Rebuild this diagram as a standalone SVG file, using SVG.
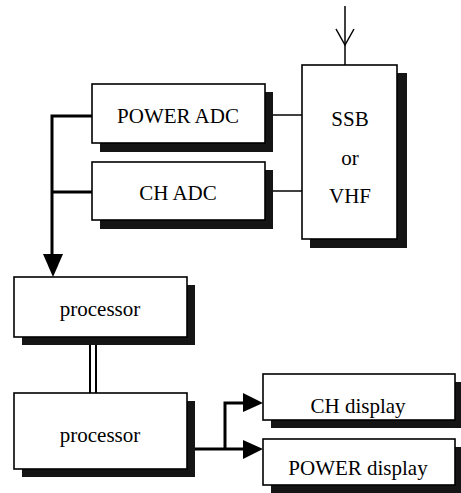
<svg xmlns="http://www.w3.org/2000/svg" width="461" height="493" viewBox="0 0 461 493">
<defs>
<style>
.box{fill:#fff;stroke:#000;stroke-width:1.6}
.sh{fill:#151515}
.t{font-family:"Liberation Serif","Times New Roman",serif;font-size:21px;fill:#000;text-anchor:middle}
.thin{fill:none;stroke:#000;stroke-width:1.5}
.bus{fill:none;stroke:#000;stroke-width:3}
</style>
<marker id="ah" viewBox="0 0 20 20" refX="20" refY="10" markerWidth="20" markerHeight="20" markerUnits="userSpaceOnUse" orient="auto">
<path d="M0,0 L20,10 L0,20 Z" fill="#000"/>
</marker>
</defs>
<rect width="461" height="493" fill="#fff"/>
<g id="connectors">
<line class="thin" x1="345" y1="6" x2="345" y2="65"/>
<polyline class="thin" points="336,29 345,45 354,29"/>
<line class="thin" x1="273" y1="115" x2="302" y2="115"/>
<line class="thin" x1="273" y1="191" x2="302" y2="191"/>
<polyline class="bus" points="92,116 52,116 52,268"/>
<line class="bus" x1="52" y1="192" x2="92" y2="192"/>
<path d="M43,254 L63,254 L53,277 Z" fill="#000"/>
<line x1="90" y1="345" x2="90" y2="393" stroke="#000" stroke-width="2"/>
<line x1="96" y1="345" x2="96" y2="393" stroke="#000" stroke-width="2"/>
<polyline class="bus" points="195,449 245,449"/>
<polyline class="bus" points="225,449 225,403 245,403"/>
<path d="M243,393 L263,403 L243,412 Z" fill="#000"/>
<path d="M243,440 L263,449 L243,459 Z" fill="#000"/>
</g>
<g id="ssb">
<rect class="sh" x="310" y="73" width="97" height="175"/>
<rect class="box" x="302" y="65" width="95" height="174"/>
<text class="t" x="350" y="126">SSB</text>
<text class="t" x="350" y="165">or</text>
<text class="t" x="350" y="203">VHF</text>
</g>
<g id="power-adc">
<rect class="sh" x="100" y="92" width="173" height="60"/>
<rect class="box" x="92" y="84" width="173" height="59"/>
<text class="t" x="178" y="123">POWER ADC</text>
</g>
<g id="ch-adc">
<rect class="sh" x="100" y="170" width="173" height="59"/>
<rect class="box" x="92" y="162" width="173" height="58"/>
<text class="t" x="178" y="200">CH ADC</text>
</g>
<g id="processor1">
<rect class="sh" x="22" y="285" width="173" height="60"/>
<rect class="box" x="14" y="277" width="173" height="60"/>
<text class="t" x="100" y="316">processor</text>
</g>
<g id="processor2">
<rect class="sh" x="22" y="401" width="173" height="76"/>
<rect class="box" x="14" y="393" width="173" height="76"/>
<text class="t" x="100" y="442">processor</text>
</g>
<g id="ch-display">
<rect class="sh" x="271" y="382" width="192" height="46"/>
<rect class="box" x="263" y="374" width="192" height="46"/>
<text class="t" x="358" y="413">CH display</text>
</g>
<g id="power-display">
<rect class="sh" x="271" y="447" width="192" height="46"/>
<rect class="box" x="263" y="439" width="192" height="46"/>
<text class="t" x="358" y="475">POWER display</text>
</g>
</svg>
